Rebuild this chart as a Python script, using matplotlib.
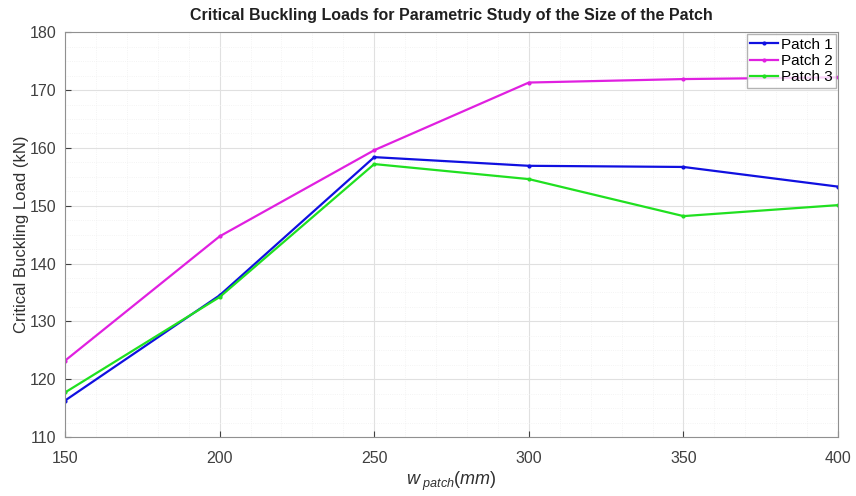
import matplotlib.pyplot as plt
from matplotlib.ticker import AutoMinorLocator

plt.rcParams['font.family'] = ['Liberation Sans', 'DejaVu Sans']
plt.rcParams['mathtext.fontset'] = 'custom'
plt.rcParams['mathtext.rm'] = 'Liberation Sans'
plt.rcParams['mathtext.it'] = 'Liberation Sans:italic'

w_patch = [150, 200, 250, 300, 350, 400]
patch1 = [116.3, 134.5, 158.4, 156.9, 156.7, 153.3]
patch2 = [123.2, 144.7, 159.6, 171.3, 171.9, 172.2]
patch3 = [117.7, 134.2, 157.2, 154.6, 148.2, 150.1]

fig = plt.figure(figsize=(8.56, 4.96), dpi=100)
ax = fig.add_axes([0.076, 0.119, 0.903, 0.816])

ax.plot(w_patch, patch1, '.-', color='#1010e0', lw=1.6, ms=4, label='Patch 1')
ax.plot(w_patch, patch2, '.-', color='#e020e0', lw=1.6, ms=4, label='Patch 2')
ax.plot(w_patch, patch3, '.-', color='#20e020', lw=1.6, ms=4, label='Patch 3')

ax.set_xlim(150, 400)
ax.set_ylim(110, 180)
ax.set_xticks(w_patch)
ax.set_yticks(range(110, 181, 10))
ax.xaxis.set_minor_locator(AutoMinorLocator(5))
ax.yaxis.set_minor_locator(AutoMinorLocator(4))
ax.grid(True, which='major', color='#e0e0e0', lw=0.8)
ax.grid(True, which='minor', color='#f0f0f0', lw=0.6, ls=':')
ax.tick_params(which='major', direction='in', colors='#404040', labelsize=11.5,
               length=4)
ax.tick_params(axis='x', pad=10)
ax.tick_params(axis='y', pad=6)
ax.tick_params(which='minor', length=0)
for s in ax.spines.values():
    s.set_color('#909090')

ax.set_title('Critical Buckling Loads for Parametric Study of the Size of the Patch',
             fontsize=11.5, fontweight='bold', color='#202020', pad=9)
ax.set_xlabel(r'$w_{\ patch}(mm)$', fontsize=13, color='#303030', labelpad=3)
ax.set_ylabel('Critical Buckling Load (kN)', fontsize=12, color='#303030', labelpad=1)

ax.legend(loc='upper right', fontsize=11, frameon=True, fancybox=False,
          edgecolor='#a0a0a0', handlelength=1.8, borderpad=0.25, labelspacing=0.15,
          handletextpad=0.2, borderaxespad=0.1)

fig.savefig('out.png', dpi=100)
